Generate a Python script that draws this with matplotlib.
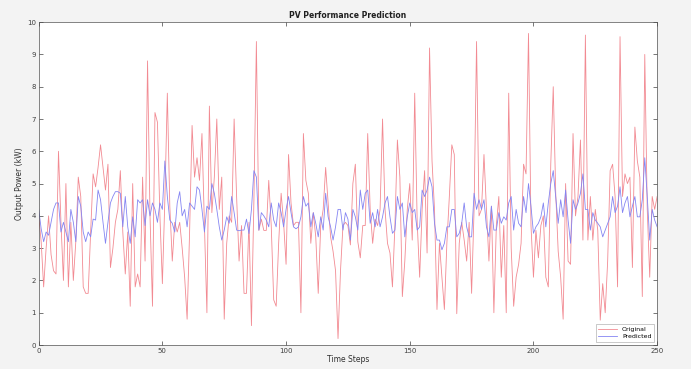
import numpy as np
import matplotlib
matplotlib.use("Agg")
import matplotlib.pyplot as plt

original = [
    4.0, 3.2, 1.8, 3.0, 4.0, 2.8, 2.3, 2.2, 6.0, 3.8,
    2.0, 5.0, 1.8, 3.8, 2.0, 3.2, 5.2, 4.6, 1.8, 1.6,
    1.6, 3.5, 5.3, 4.9, 5.5, 6.2, 5.5, 4.8, 5.6, 2.4,
    3.0, 3.8, 4.2, 5.4, 3.5, 2.2, 3.5, 1.2, 5.0, 1.8,
    2.2, 1.8, 5.2, 2.6, 8.8, 4.0, 1.2, 7.2, 6.9, 4.0,
    1.9, 4.5, 7.8, 4.3, 2.6, 3.8, 3.5, 3.8, 3.0, 2.1,
    0.8, 3.5, 6.8, 5.2, 5.8, 5.1, 6.55, 3.7, 1.0, 7.4,
    4.1, 5.2, 7.0, 4.2, 5.2, 0.8, 3.15, 4.0, 3.8, 7.0,
    4.6, 2.6, 3.7, 1.6, 1.6, 3.8, 0.6, 4.5, 9.4, 3.55,
    3.9, 3.55, 3.55, 5.1, 3.7, 1.4, 1.2, 3.15, 4.7, 3.8,
    2.5, 5.9, 4.4, 3.7, 3.8, 3.8, 1.0, 6.55, 5.1, 4.7,
    3.15, 4.1, 3.35, 1.6, 3.7, 4.2, 5.5, 4.4, 3.35, 2.9,
    2.3, 0.2, 2.3, 3.7, 3.8, 3.7, 3.1, 5.0, 5.6, 3.2,
    2.7, 3.7, 3.7, 6.55, 4.2, 3.15, 3.9, 3.7, 4.2, 7.0,
    4.2, 3.15, 2.85, 1.8, 3.7, 6.35, 5.2, 1.5, 2.6, 4.2,
    5.0, 3.25, 7.8, 3.8, 2.1, 4.2, 5.4, 2.85, 9.2, 5.7,
    4.2, 1.1, 3.15, 2.1, 1.1, 3.15, 4.6, 6.2, 5.9, 0.97,
    3.15, 3.8, 3.25, 2.6, 3.8, 1.6, 4.2, 9.4, 4.0, 4.2,
    5.9, 4.2, 2.6, 4.3, 1.0, 3.7, 4.6, 2.1, 3.7, 1.0,
    7.8, 3.0, 1.2, 2.1, 2.5, 3.15, 5.6, 5.3, 9.65, 3.7,
    2.1, 3.55, 2.7, 3.7, 4.0, 2.1, 1.8, 5.6, 8.0, 4.7,
    2.9, 2.1, 0.8, 5.0, 2.6, 2.5, 6.55, 4.0, 4.6, 6.35,
    3.25, 9.6, 3.25, 4.6, 3.25, 4.2, 3.55, 0.77, 1.9, 1.0,
    2.6, 5.4, 5.6, 4.6, 1.8, 9.55, 4.6, 5.3, 5.0, 5.2,
    2.4, 6.75, 5.7, 5.2, 1.5, 9.0, 4.2, 2.1, 4.6, 4.2,
    4.6,
]

predicted = [
    4.2, 3.6, 3.2, 3.5, 3.4, 3.8, 4.2, 4.4, 4.4, 3.5,
    3.8, 3.5, 3.2, 4.2, 3.8, 3.2, 4.6, 4.3, 3.5, 3.2,
    3.5, 3.35, 3.9, 3.87, 4.8, 4.5, 3.8, 3.15, 3.8, 4.4,
    4.6, 4.75, 4.75, 4.7, 3.66, 4.6, 3.66, 3.15, 3.97, 3.35,
    4.5, 4.4, 4.5, 3.7, 4.5, 4.0, 4.4, 4.2, 3.8, 4.4,
    4.2, 5.7, 4.6, 3.87, 3.77, 3.5, 4.4, 4.75, 4.0, 4.2,
    3.66, 4.4, 4.3, 4.2, 4.9, 4.8, 4.2, 3.5, 4.3, 4.2,
    5.0, 4.7, 4.2, 3.66, 3.25, 3.56, 3.97, 3.77, 4.6, 4.1,
    3.56, 3.54, 3.56, 3.56, 3.9, 3.45, 4.2, 5.4, 5.2, 3.56,
    4.1, 4.0, 3.87, 3.66, 4.4, 3.87, 3.66, 4.4, 4.1, 3.66,
    4.2, 4.6, 4.1, 3.66, 3.6, 3.66, 3.97, 4.6, 4.3, 4.4,
    3.66, 4.1, 3.77, 3.35, 3.97, 3.56, 4.7, 3.97, 3.66, 3.25,
    3.66, 4.2, 4.2, 3.56, 4.1, 3.9, 3.25, 4.2, 3.97, 3.56,
    4.8, 4.2, 4.7, 4.8, 3.77, 4.1, 3.66, 4.2, 3.66, 3.97,
    4.4, 4.6, 3.97, 3.46, 3.56, 4.6, 4.2, 4.4, 3.35, 3.97,
    4.4, 4.1, 4.2, 3.56, 3.66, 4.8, 4.6, 4.8, 5.2, 4.9,
    3.77, 3.25, 3.25, 2.95, 3.15, 3.66, 3.66, 4.2, 4.2, 3.35,
    3.46, 3.77, 4.4, 3.66, 3.35, 3.35, 4.7, 4.2, 4.5, 4.2,
    4.5, 3.66, 3.35, 4.3, 3.56, 3.56, 4.1, 3.77, 3.97, 3.87,
    4.4, 4.6, 3.56, 4.2, 3.77, 3.66, 4.6, 4.1, 5.0, 4.3,
    3.46, 3.66, 3.77, 3.97, 4.4, 3.66, 4.4, 5.0, 5.4, 4.6,
    3.77, 4.5, 3.97, 4.8, 3.87, 3.15, 4.5, 4.2, 4.4, 4.7,
    5.3, 4.2, 4.2, 3.56, 4.1, 3.87, 3.77, 3.66, 3.35, 3.56,
    3.77, 3.97, 4.6, 4.1, 4.3, 4.9, 4.1, 4.4, 4.6, 3.97,
    4.3, 4.6, 3.97, 3.97, 4.5, 5.8, 4.6, 3.25, 4.2, 3.87,
    3.66,
]

steps = np.arange(len(original))
x_ticks = [0, 50, 100, 150, 200, 250]
y_ticks = list(range(0, 11))

fig = plt.figure(figsize=(6.91, 3.69), dpi=100, facecolor="#f3f3f3")
ax = fig.add_axes([0.056, 0.065, 0.895, 0.875])
ax.set_facecolor("white")

ax.plot(steps, original, color="#f28a92", lw=0.6, label="Original")
ax.plot(steps, predicted, color="#8585f2", lw=0.6, label="Predicted")

ax.set_xlim(0, 250)
ax.set_ylim(0, 10)
ax.set_xticks(x_ticks)
ax.set_yticks(y_ticks)
ax.tick_params(direction="in", length=3, width=0.5, labelsize=5,
               colors="#404040", top=True, right=True, pad=2)
for s in ax.spines.values():
    s.set_linewidth(0.5)
    s.set_color("#505050")

ax.set_title("PV Performance Prediction", fontsize=5.5, fontweight="bold",
             color="#202020", pad=3)
ax.set_xlabel("Time Steps", fontsize=5.5, color="#303030", labelpad=1)
ax.set_ylabel("Output Power (kW)", fontsize=5.5, color="#303030", labelpad=2)

leg = ax.legend(loc="lower right", fontsize=4.5, frameon=True, fancybox=False,
                edgecolor="#a0a0a0", handlelength=3, borderpad=0.4,
                labelspacing=0.3)
leg.get_frame().set_linewidth(0.5)

fig.savefig("out.png", dpi=100, facecolor=fig.get_facecolor())
